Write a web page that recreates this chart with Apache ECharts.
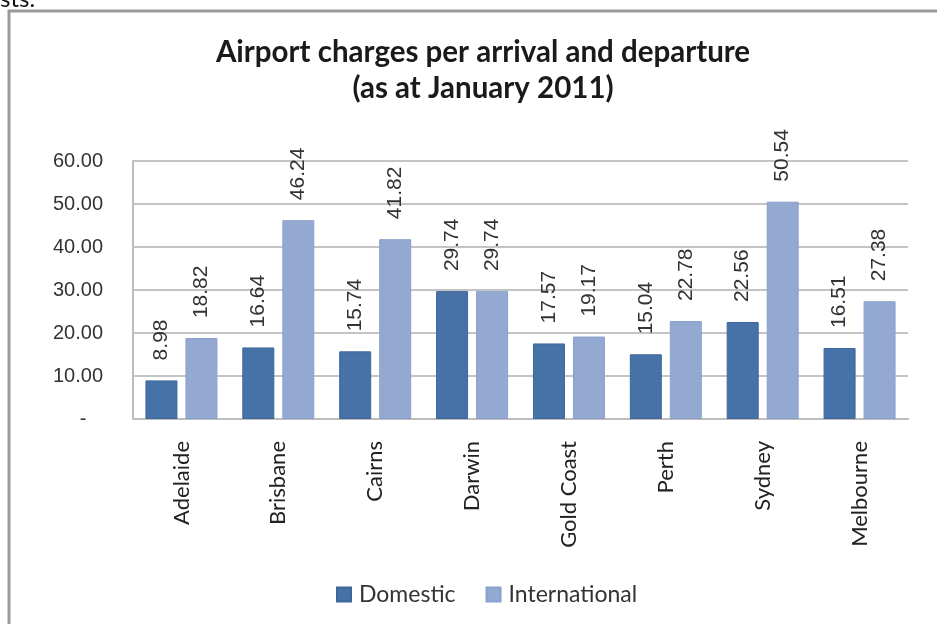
<!DOCTYPE html>
<html>
<head>
<meta charset="utf-8">
<script src="https://cdn.jsdelivr.net/npm/echarts@6/dist/echarts.min.js"></script>
<style>
html,body{margin:0;padding:0;background:#fff;}
#chart{width:937px;height:624px;}
</style>
</head>
<body>
<div id="chart"></div>
<script>
var cities = ['Adelaide', 'Brisbane', 'Cairns', 'Darwin', 'Gold Coast', 'Perth', 'Sydney', 'Melbourne'];
var domestic = [8.98, 16.64, 15.74, 29.74, 17.57, 15.04, 22.56, 16.51];
var international = [18.82, 46.24, 41.82, 29.74, 19.17, 22.78, 50.54, 27.38];
var seriesNames = ['Domestic', 'International'];

var myChart = echarts.init(document.getElementById('chart'));

var labelStyle = {
    show: true,
    position: 'top',
    rotate: 90,
    align: 'left',
    verticalAlign: 'middle',
    distance: 20,
    fontFamily: 'Liberation Sans',
    fontSize: 21,
    color: '#333',
    formatter: function (p) { return p.value.toFixed(2); }
};

var option = {
    backgroundColor: '#fff',
    animation: false,
    title: {
        text: 'Airport charges per arrival and departure\n(as at January 2011)',
        left: 478,
        top: 29,
        textAlign: 'center',
        textStyle: {
            fontFamily: 'Lato',
            fontWeight: 'bold',
            fontSize: 29.5,
            lineHeight: 36,
            color: '#1a1a1a'
        }
    },
    legend: {
        data: seriesNames,
        top: 578,
        left: 331,
        itemWidth: 14,
        itemHeight: 14,
        itemGap: 30,
        icon: 'rect',
        textStyle: {
            fontFamily: 'Lato',
            fontSize: 23,
            color: '#333',
            padding: [0, 0, 0, 3]
        }
    },
    grid: {
        left: 133,
        right: 29,
        top: 161,
        bottom: 205
    },
    xAxis: {
        type: 'category',
        data: cities,
        axisLine: { show: true, lineStyle: { color: '#bdbdbd', width: 2 } },
        axisTick: { show: false },
        axisLabel: {
            rotate: 90,
            margin: 22,
            fontFamily: 'Lato',
            fontSize: 22,
            color: '#222'
        }
    },
    yAxis: {
        type: 'value',
        min: 0,
        max: 60,
        interval: 10,
        axisLine: { show: true, lineStyle: { color: '#bdbdbd', width: 2 } },
        axisTick: { show: false },
        splitLine: { lineStyle: { color: '#c4c4c4', width: 2 } },
        axisLabel: {
            margin: 30,
            fontFamily: 'Liberation Sans',
            fontSize: 20,
            color: '#333',
            formatter: function (v) { return v === 0 ? '-   ' : v.toFixed(2); }
        }
    },
    graphic: [
        {
            type: 'rect',
            shape: { x: 9, y: 11, width: 1000, height: 700 },
            style: { fill: 'none', stroke: '#9a9a9a', lineWidth: 3 },
            z: 0
        },
        {
            type: 'text',
            left: 0,
            top: -13,
            style: { text: 'sts.', fontFamily: 'Lato', fontSize: 24, fill: '#111' }
        }
    ],
    series: [
        {
            name: seriesNames[0],
            type: 'bar',
            data: domestic,
            barWidth: 32,
            barGap: '25%',
            itemStyle: { color: '#4672a8', borderColor: '#3d669b', borderWidth: 1 },
            label: labelStyle
        },
        {
            name: seriesNames[1],
            type: 'bar',
            data: international,
            barWidth: 32,
            itemStyle: { color: '#93a9d2', borderColor: '#8aa1cc', borderWidth: 1 },
            label: labelStyle
        }
    ]
};

myChart.setOption(option);
</script>
</body>
</html>
